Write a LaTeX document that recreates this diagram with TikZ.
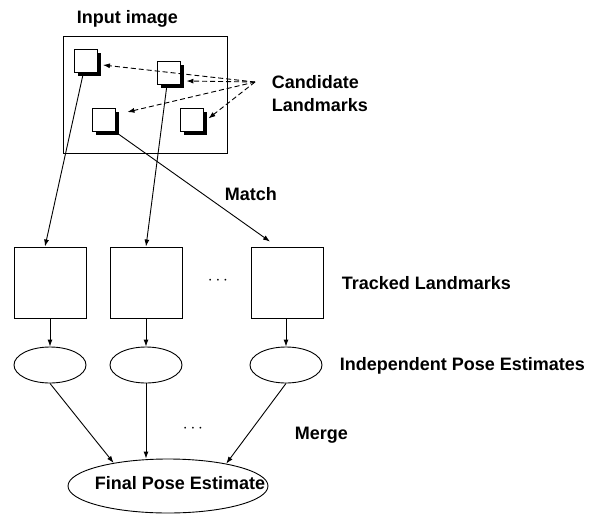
\documentclass[tikz,border=0pt]{standalone}
\usepackage{fontspec}
\setmainfont{Liberation Sans}
\usetikzlibrary{arrows.meta,shapes.geometric,shadows}
\begin{document}
\begin{tikzpicture}[x=1pt,y=-1pt,line width=0.9pt,
    font=\fontsize{18}{23}\selectfont\bfseries,
    >={Latex[length=7pt,width=5pt]},
    landmark/.style={draw,fill=white,minimum width=23pt,minimum height=23pt,inner sep=0pt,
        drop shadow={fill=black,opacity=1,shadow xshift=3.5pt,shadow yshift=-3.5pt}},
    tracked/.style={draw,minimum width=72pt,minimum height=71pt,inner sep=0pt},
    estimate/.style={draw,ellipse,minimum width=72pt,minimum height=36pt,inner sep=0pt},
    candarrow/.style={->,dash pattern=on 5pt off 3pt}]
    \useasboundingbox (0,0) rectangle (603,515);
    % input image with its landmarks
    \node[draw,minimum width=164pt,minimum height=117pt,inner sep=0pt] (img) at (145,94.5) {};
    \node[anchor=west] (imglabel) at (73,19) {Input image};
    \node[landmark] (lmA) at (86,61) {};
    \node[landmark] (lmB) at (168.5,73) {};
    \node[landmark] (lmC) at (103.5,120) {};
    \node[landmark] (lmD) at (191.5,119.5) {};
    \node[anchor=west,align=left] (candlabel) at (268,94) {Candidate\\Landmarks};
    \coordinate (candsrc) at (255,82);
    \draw[candarrow] (candsrc) -- ([xshift=5pt,yshift=-4pt]lmA.east);
    \draw[candarrow] (candsrc) -- ([xshift=6pt,yshift=-8pt]lmB.east);
    \draw[candarrow] (candsrc) -- ([xshift=12pt,yshift=8pt]lmC.east);
    \draw[candarrow] (candsrc) -- ([xshift=5pt,yshift=1pt]lmD.east);
    % tracked landmarks
    \node[tracked] (trA) at (50,282.5) {};
    \node[tracked] (trB) at (146,282.5) {};
    \node[tracked] (trC) at (287,282.5) {};
    \node (dotsA) at (218,281) {$\cdots$};
    \node[anchor=west] (trlabel) at (338,283) {Tracked Landmarks};
    \draw[->] (lmA) -- ([xshift=-5pt]trA.north);
    \draw[->] (lmB) -- (trB.north);
    \draw[->] (lmC.south east) -- ([xshift=-17pt,yshift=5pt]trC.north);
    \node[anchor=west] (matchlabel) at (221,194) {Match};
    % pose estimates
    \node[estimate] (estA) at (50,365) {};
    \node[estimate] (estB) at (146,365) {};
    \node[estimate] (estC) at (286,365) {};
    \node[anchor=west] (estlabel) at (336,366) {Independent Pose Estimates};
    \draw[->] (trA) -- (estA);
    \draw[->] (trB) -- (estB);
    \draw[->] (trC.south -| estC) -- (estC);
    % merge
    \node[draw,ellipse,minimum width=200pt,minimum height=54pt,inner sep=0pt] (final) at (168,486) {};
    \node (finaltext) at ([xshift=12pt,yshift=3pt]final.center) {Final Pose Estimate};
    \node (dotsB) at (193,429) {$\cdots$};
    \node[anchor=west] (mergelabel) at (291,435) {Merge};
    \draw[->] (estA.south) -- (final.157);
    \draw[->] (estB.south) -- (estB |- final.north);
    \draw[->] (estC.south) -- (final.21);
\end{tikzpicture}
\end{document}
